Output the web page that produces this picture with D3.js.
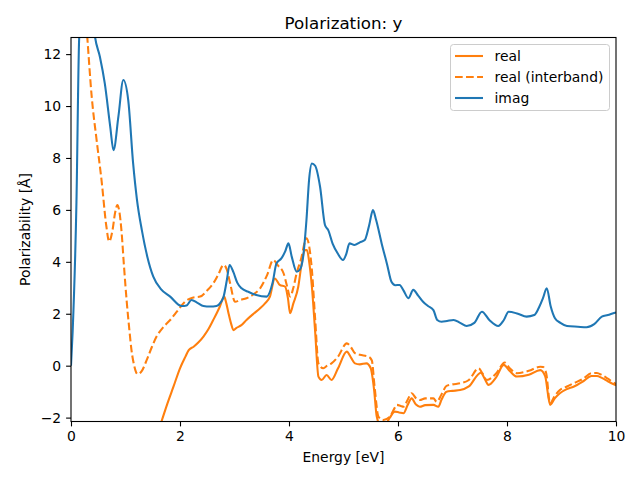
<!DOCTYPE html>
<html><head><meta charset="utf-8">
<script src="https://cdn.jsdelivr.net/npm/d3@7"></script>
<style>body{margin:0;background:#fff}svg{font-family:"DejaVu Sans",sans-serif}</style>
</head><body>
<script>
// Energy [eV] / value pairs
const imagE = [0,0.03,0.10,0.15,0.22,0.30,0.37,0.44,0.53,0.62,0.72,0.78,0.87,0.96,1.05,1.14,1.21,1.30,1.40,1.51,1.65,1.82,2.03,2.12,2.21,2.32,2.43,2.55,2.67,2.75,2.80,2.86,2.91,2.98,3.05,3.13,3.25,3.40,3.59,3.70,3.77,3.86,3.93,3.99,4.05,4.14,4.20,4.26,4.32,4.37,4.42,4.48,4.57,4.66,4.72,4.80,4.90,4.99,5.05,5.11,5.20,5.30,5.39,5.47,5.54,5.60,5.70,5.80,5.88,5.95,6.03,6.10,6.19,6.28,6.37,6.46,6.55,6.65,6.72,6.80,6.90,7.02,7.14,7.26,7.40,7.54,7.68,7.84,7.94,8.03,8.20,8.36,8.50,8.58,8.66,8.73,8.80,8.88,8.98,9.10,9.30,9.46,9.60,9.74,9.85,9.98,10.0];
const imagV = [0.0,1.3,6.3,12.6,14.3,14.8,14.0,12.67,11.9,10.87,9.2,8.3,9.6,11.0,10.23,7.79,6.4,5.22,4.2,3.43,2.95,2.66,2.30,2.32,2.53,2.42,2.30,2.28,2.30,2.45,2.66,3.3,3.88,3.6,3.2,2.98,2.85,2.72,2.66,3.2,3.94,4.13,4.4,4.71,4.2,3.62,3.7,4.20,5.6,7.2,7.79,7.7,6.89,5.42,5.22,4.7,4.3,4.07,4.3,4.71,4.65,4.75,4.84,5.4,5.99,5.6,4.71,3.9,3.23,3.1,3.11,2.9,2.6,2.92,2.7,2.46,2.3,2.14,1.76,1.69,1.72,1.76,1.65,1.53,1.65,2.08,1.75,1.53,1.75,2.08,2.0,1.89,1.95,2.21,2.6,2.98,2.3,1.83,1.65,1.53,1.50,1.48,1.6,1.89,1.95,2.04,2.05];

const interE = [0.25,0.29,0.38,0.47,0.56,0.65,0.70,0.76,0.81,0.85,0.89,0.93,0.97,1.02,1.07,1.11,1.16,1.22,1.30,1.39,1.48,1.57,1.70,1.82,1.95,2.09,2.23,2.37,2.50,2.61,2.70,2.80,2.86,2.92,3.01,3.10,3.22,3.35,3.47,3.60,3.71,3.80,3.90,3.96,4.02,4.08,4.14,4.22,4.32,4.37,4.42,4.48,4.54,4.63,4.70,4.78,4.90,5.06,5.14,5.21,5.30,5.46,5.52,5.57,5.64,5.73,5.85,5.92,5.98,6.05,6.10,6.18,6.25,6.33,6.40,6.50,6.65,6.71,6.80,6.89,7.00,7.14,7.30,7.48,7.55,7.63,7.80,7.96,8.05,8.18,8.40,8.61,8.66,8.72,8.79,8.88,8.97,9.10,9.22,9.40,9.55,9.65,9.74,9.85,9.98,10.0];
const interV = [14.0,12.9,10.36,8.69,7.15,5.35,4.78,5.2,5.9,6.19,5.9,5.10,3.9,2.53,1.4,0.60,0.0,-0.32,-0.2,0.22,0.7,1.12,1.5,1.76,2.1,2.46,2.62,2.66,2.9,3.17,3.5,3.88,3.7,3.17,2.46,2.53,2.60,2.75,2.98,3.5,4.07,3.85,3.56,3.1,2.66,3.0,3.56,4.1,4.91,4.6,3.69,1.8,0.09,-0.10,0.0,0.09,0.35,0.86,0.7,0.48,0.42,0.35,0.2,-0.8,-1.96,-2.09,-1.96,-1.7,-1.51,-1.55,-1.58,-1.3,-1.06,-1.25,-1.32,-1.26,-1.26,-1.39,-1.1,-0.78,-0.72,-0.68,-0.55,-0.10,-0.3,-0.55,-0.3,0.12,-0.1,-0.29,-0.2,-0.04,-0.05,-0.3,-1.45,-1.15,-0.94,-0.8,-0.68,-0.5,-0.29,-0.28,-0.36,-0.5,-0.68,-0.7];

const realE = [1.45,1.55,1.66,1.77,1.88,2.00,2.10,2.16,2.25,2.34,2.43,2.52,2.61,2.68,2.73,2.81,2.85,2.89,2.94,2.98,3.03,3.12,3.22,3.35,3.47,3.56,3.65,3.74,3.83,3.93,3.98,4.02,4.08,4.17,4.23,4.29,4.33,4.37,4.42,4.48,4.54,4.60,4.69,4.78,4.90,5.06,5.14,5.21,5.30,5.42,5.50,5.56,5.61,5.68,5.75,5.85,5.94,6.02,6.10,6.18,6.25,6.33,6.40,6.50,6.65,6.74,6.80,6.89,7.00,7.14,7.30,7.52,7.59,7.66,7.80,7.94,8.05,8.18,8.40,8.61,8.70,8.79,8.88,8.97,9.10,9.22,9.40,9.55,9.65,9.74,9.85,9.98,10.0];
const realV = [-3.3,-2.8,-2.15,-1.45,-0.81,-0.1,0.35,0.60,0.73,0.9,1.12,1.4,1.76,2.05,2.27,2.66,2.4,2.02,1.6,1.37,1.45,1.55,1.76,2.0,2.21,2.4,2.66,3.36,3.11,3.04,2.6,2.02,2.4,3.04,3.9,4.45,4.45,4.0,3.04,1.3,-0.42,-0.55,-0.36,-0.55,-0.1,0.54,0.3,0.09,0.05,0.09,-0.1,-0.9,-1.96,-2.3,-2.3,-2.0,-1.77,-1.8,-1.83,-1.5,-1.26,-1.5,-1.58,-1.52,-1.51,-1.58,-1.3,-1.0,-0.97,-0.94,-0.8,-0.27,-0.5,-0.74,-0.45,0.03,-0.2,-0.42,-0.35,-0.17,-0.4,-1.51,-1.25,-1.06,-0.9,-0.81,-0.6,-0.40,-0.40,-0.47,-0.6,-0.74,-0.76];

const xTicks = [0,2,4,6,8,10];
const yTicks = [-2,0,2,4,6,8,10,12];
const seriesNames = ["real","real (interband)","imag"];
const seriesColors = ["#ff7f0e","#ff7f0e","#1f77b4"];

const W=640,H=480, L=71, R=616, T=37.5, B=421.5;
const x = d3.scaleLinear().domain([0,10]).range([L,R]);
const y = d3.scaleLinear().domain([-2.15,12.64]).range([B,T]);

const svg = d3.select("body").append("svg").attr("width",W).attr("height",H);
svg.append("defs").append("clipPath").attr("id","clip").append("rect")
  .attr("x",L).attr("y",T).attr("width",R-L).attr("height",B-T);

const line = d3.line().x(d=>x(d[0])).y(d=>y(d[1])).curve(d3.curveMonotoneX);
const g = svg.append("g").attr("clip-path","url(#clip)");
const zip=(a,b)=>a.map((v,i)=>[v,b[i]]);
g.append("path").datum(zip(realE,realV)).attr("d",line).attr("fill","none")
  .attr("stroke",seriesColors[0]).attr("stroke-width",2.08).attr("stroke-linejoin","round");
g.append("path").datum(zip(interE,interV)).attr("d",line).attr("fill","none")
  .attr("stroke",seriesColors[1]).attr("stroke-width",2.08).attr("stroke-dasharray","7.7,3.33");
g.append("path").datum(zip(imagE,imagV)).attr("d",line).attr("fill","none")
  .attr("stroke",seriesColors[2]).attr("stroke-width",2.08).attr("stroke-linejoin","round");

const xa = svg.append("g").attr("transform",`translate(0,${B})`)
  .call(d3.axisBottom(x).tickValues(xTicks).tickSize(4.9).tickPadding(4.9).tickFormat(d3.format("d")));
const ya = svg.append("g").attr("transform",`translate(${L},0)`)
  .call(d3.axisLeft(y).tickValues(yTicks).tickSize(4.9).tickPadding(4.9).tickFormat(d=>d<0?"\u2212"+Math.abs(d):d));
[xa,ya].forEach(a=>{a.select(".domain").remove();a.selectAll("text").attr("font-size","13.9px").attr("fill","#000").attr("font-family","DejaVu Sans");a.selectAll("line").attr("stroke","#000").attr("stroke-width",1.1);});

svg.append("rect").attr("x",L).attr("y",T).attr("width",R-L).attr("height",B-T)
  .attr("fill","none").attr("stroke","#000").attr("stroke-width",1.1);

svg.append("text").attr("x",(L+R)/2).attr("y",29).attr("text-anchor","middle")
  .attr("font-size","16.7px").text("Polarization: y");
svg.append("text").attr("x",(L+R)/2).attr("y",462).attr("text-anchor","middle")
  .attr("font-size","13.9px").text("Energy [eV]");
svg.append("text").attr("transform",`translate(30,${(T+B)/2}) rotate(-90)`).attr("text-anchor","middle")
  .attr("font-size","13.9px").text("Polarizability [Å]");

const leg = svg.append("g");
leg.append("rect").attr("x",450.5).attr("y",44.5).attr("width",159).attr("height",66).attr("rx",3)
  .attr("fill","#fff").attr("fill-opacity",0.8).attr("stroke","#ccc").attr("stroke-width",1);
seriesNames.forEach((n,i)=>{
  const yy = 56 + i*21;
  leg.append("line").attr("x1",455).attr("x2",483).attr("y1",yy).attr("y2",yy)
    .attr("stroke",seriesColors[i]).attr("stroke-width",2.08)
    .attr("stroke-dasharray", i===1?"7.7,3.33":null);
  leg.append("text").attr("x",494.5).attr("y",yy+5).attr("font-size","13.9px").text(n);
});
</script>
</body></html>
